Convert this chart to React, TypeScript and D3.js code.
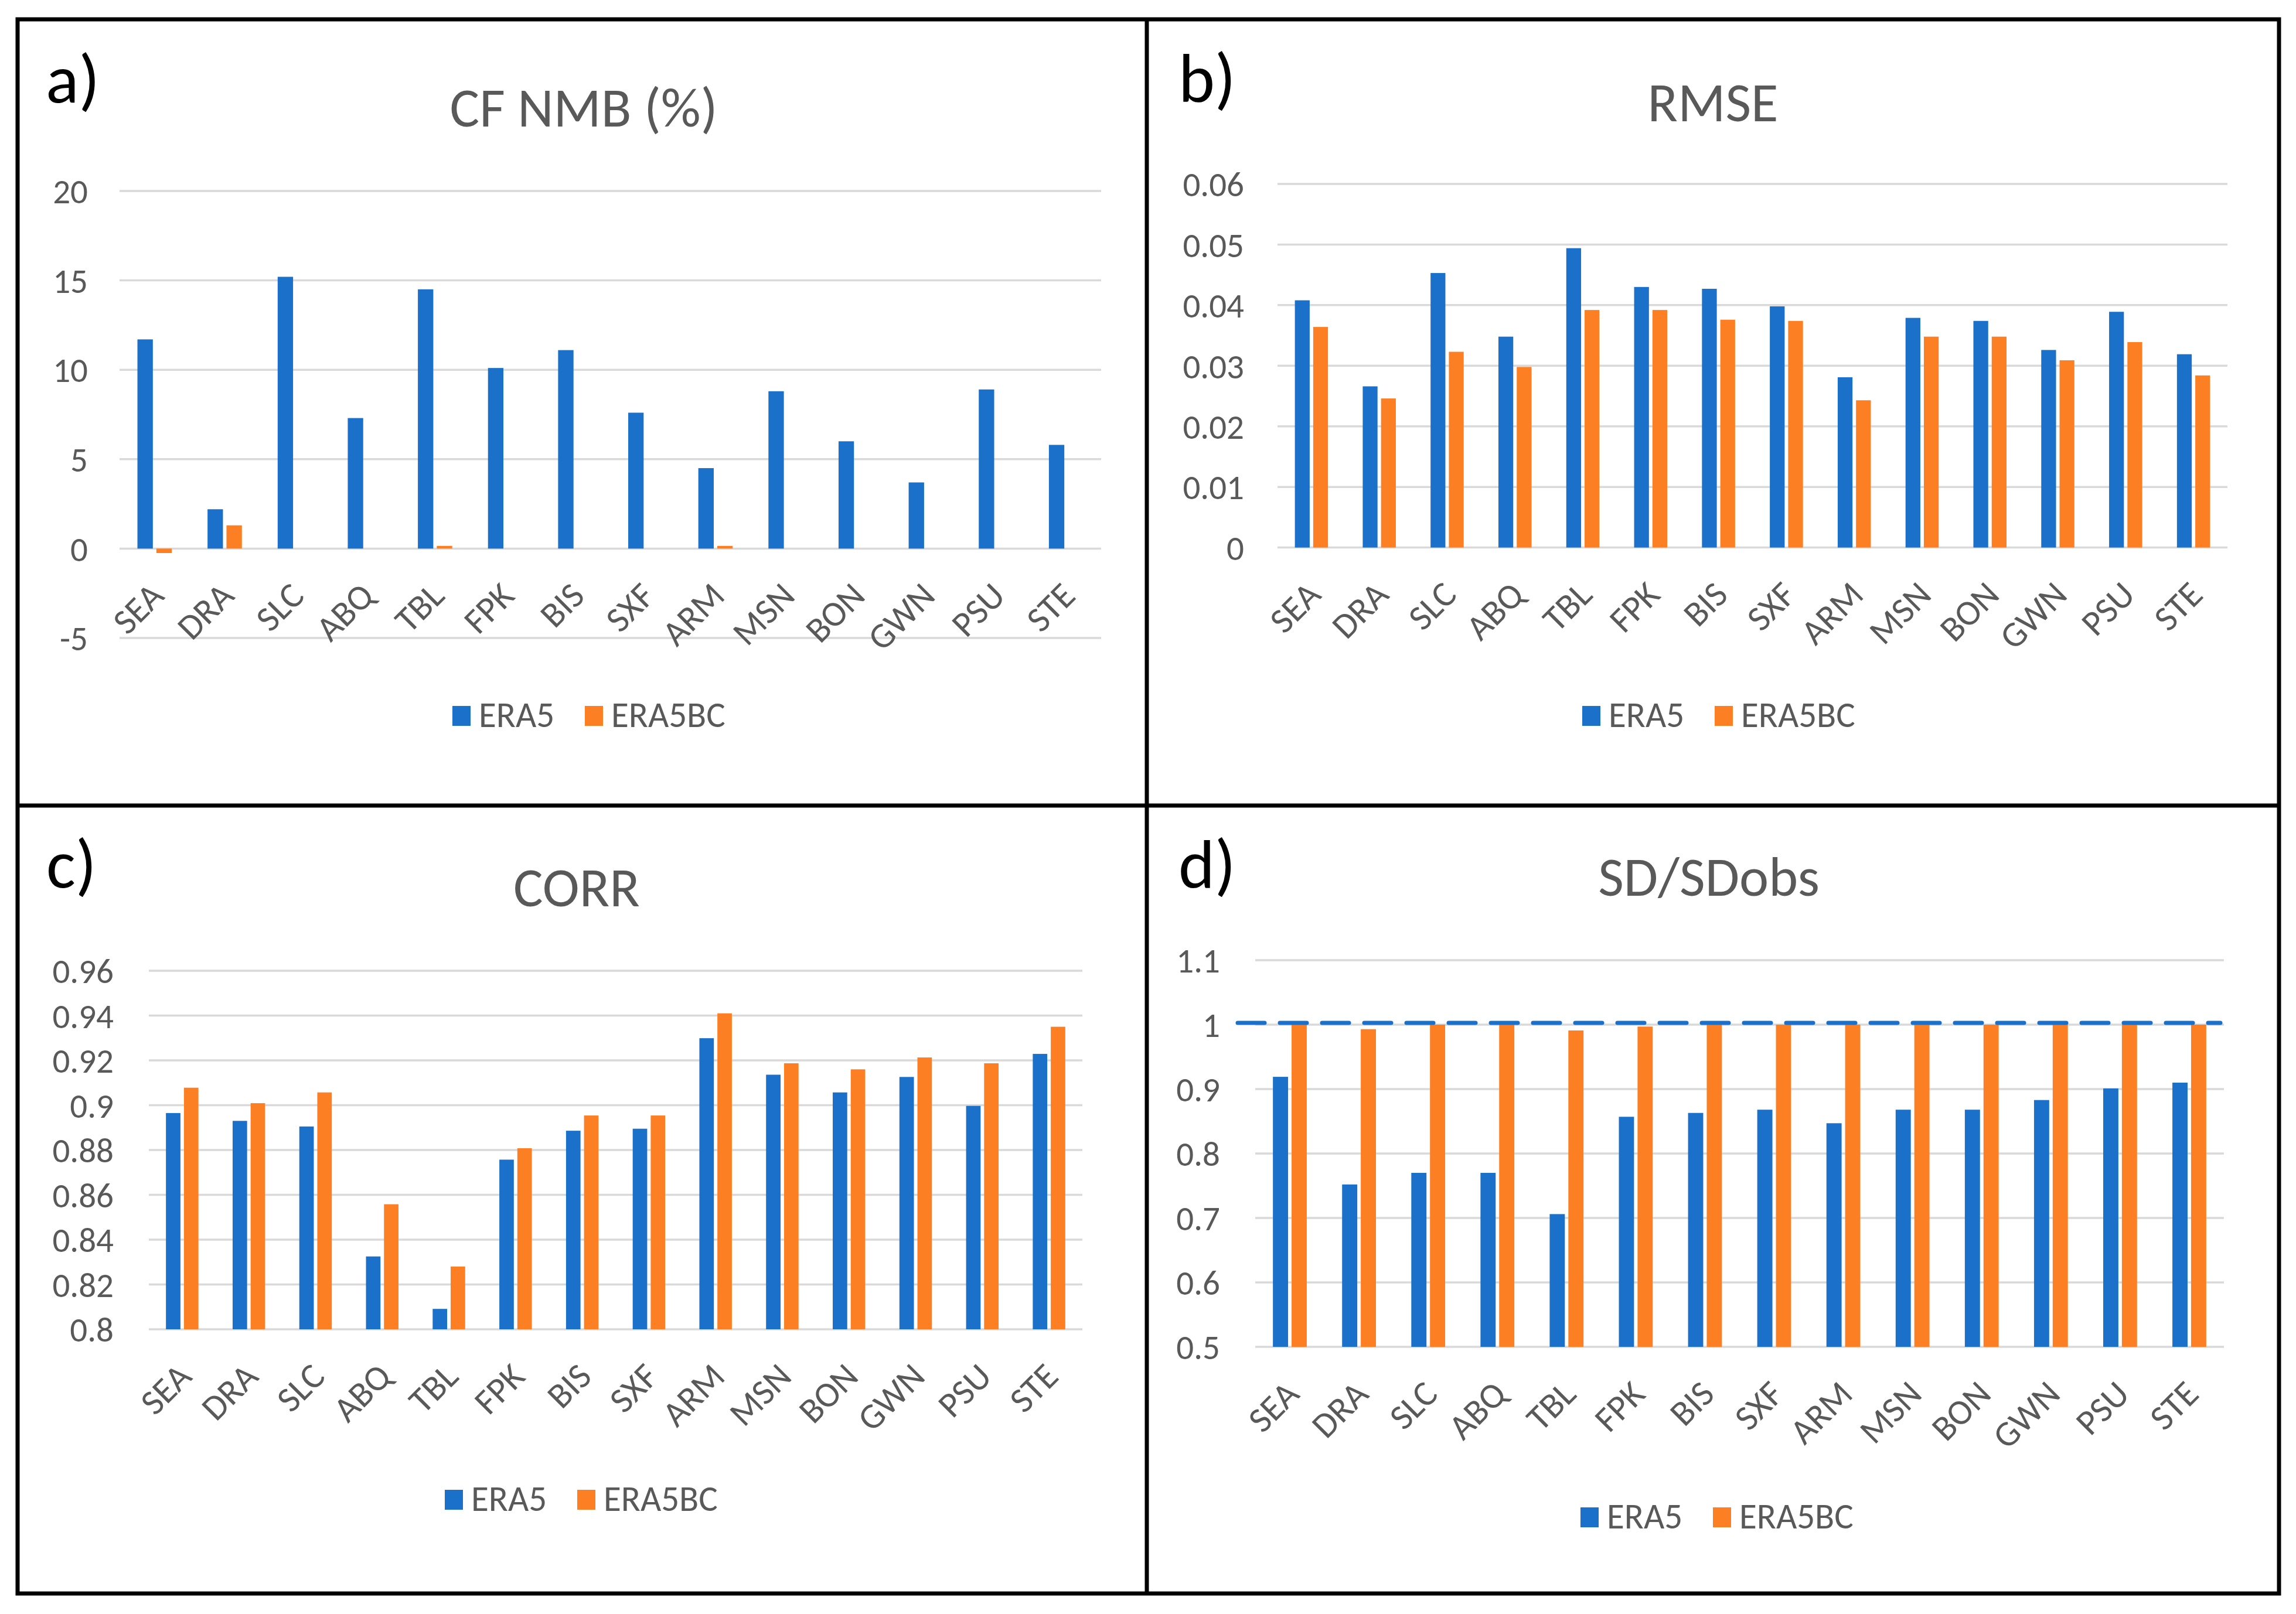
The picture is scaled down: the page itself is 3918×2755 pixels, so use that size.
import React from "react";
import * as d3 from "d3";

// ---------------- data ----------------
const stations = ["SEA", "DRA", "SLC", "ABQ", "TBL", "FPK", "BIS", "SXF", "ARM", "MSN", "BON", "GWN", "PSU", "STE"];
const seriesNames = ["ERA5", "ERA5BC"];
const seriesColors = ["#1b70c9", "#fd7f24"];

const nmbEra5 = [11.7, 2.2, 15.2, 7.3, 14.5, 10.1, 11.1, 7.6, 4.5, 8.8, 6.0, 3.7, 8.9, 5.8];
const nmbEra5bc = [-0.25, 1.3, 0, 0, 0.15, 0, 0, 0, 0.15, 0, 0, 0, 0, 0];
const nmbTicks = [-5, 0, 5, 10, 15, 20];

const rmseEra5 = [0.0408, 0.0266, 0.0453, 0.0348, 0.0494, 0.043, 0.0427, 0.0398, 0.0281, 0.0379, 0.0374, 0.0326, 0.0389, 0.0319];
const rmseEra5bc = [0.0364, 0.0246, 0.0323, 0.0298, 0.0392, 0.0392, 0.0376, 0.0374, 0.0243, 0.0348, 0.0348, 0.0309, 0.0339, 0.0284];
const rmseTicks = [0, 0.01, 0.02, 0.03, 0.04, 0.05, 0.06];

const corrEra5 = [0.8965, 0.893, 0.8905, 0.8325, 0.8091, 0.8757, 0.8886, 0.8895, 0.9299, 0.9136, 0.9057, 0.9126, 0.8997, 0.9229];
const corrEra5bc = [0.9078, 0.9009, 0.9057, 0.8558, 0.828, 0.8808, 0.8954, 0.8954, 0.941, 0.9187, 0.916, 0.9213, 0.9187, 0.935];
const corrTicks = [0.8, 0.82, 0.84, 0.86, 0.88, 0.9, 0.92, 0.94, 0.96];

const sdEra5 = [0.919, 0.752, 0.77, 0.77, 0.706, 0.857, 0.863, 0.868, 0.847, 0.868, 0.868, 0.883, 0.901, 0.91];
const sdEra5bc = [1.0, 0.993, 1.0, 1.0, 0.991, 0.997, 1.0, 1.0, 1.0, 1.0, 1.0, 1.0, 1.0, 1.0];
const sdTicks = [0.5, 0.6, 0.7, 0.8, 0.9, 1.0, 1.1];
const sdReference = 1.0;

// ---------------- styling ----------------
const FONT = "Carlito, Calibri, Lato, 'Open Sans', sans-serif";
const TEXT = "#595959";
const GRID = "#d9d9d9";

type PanelCfg = {
  tag: string;
  title: string;
  a: number[];
  b: number[];
  ticks: number[];
  x0: number;
  x1: number;
  yTop: number;
  yBot: number;
  tickRight: number;
  titleX: number;
  titleY: number;
  tagX: number;
  tagY: number;
  legendX: number;
  legendY: number;
  refLine?: number;
};

const fmt = (v: number) => String(+v.toFixed(4));

function Panel({ cfg }: { cfg: PanelCfg }) {
  const dom: [number, number] = [cfg.ticks[0], cfg.ticks[cfg.ticks.length - 1]];
  const y = d3.scaleLinear().domain(dom).range([cfg.yBot, cfg.yTop]);
  const x = d3.scaleBand<string>().domain(stations).range([cfg.x0, cfg.x1]).padding(0);
  const band = x.bandwidth();
  const slot = band * 0.27;
  const base = Math.max(dom[0], Math.min(0, dom[1]));
  const y0 = y(base);
  const series = [cfg.a, cfg.b];
  return (
    <g>
      {cfg.ticks.map((t) => (
        <g key={t}>
          <line x1={cfg.x0} x2={cfg.x1} y1={y(t)} y2={y(t)} stroke={GRID} strokeWidth={3.5} />
          <text x={cfg.tickRight} y={y(t)} dy="0.36em" textAnchor="end" fontSize={59} fill={TEXT}>
            {fmt(t)}
          </text>
        </g>
      ))}
      {stations.map((s, i) => {
        const c = (x(s) as number) + band / 2;
        return (
          <g key={s}>
            {series.map((vals, k) => {
              const v = vals[i];
              const sx = c - slot + k * slot;
              const yv = y(v);
              return (
                <rect
                  key={k}
                  x={sx + 3}
                  width={slot - 6}
                  y={Math.min(yv, y0)}
                  height={Math.abs(yv - y0)}
                  fill={seriesColors[k]}
                />
              );
            })}
            <text
              transform={`translate(${c + 19},${y0 + 84}) rotate(-45)`}
              textAnchor="end"
              fontSize={61}
              fill={TEXT}
            >
              {s}
            </text>
          </g>
        );
      })}
      {cfg.refLine !== undefined && (
        <line
          x1={cfg.x0 - 30}
          x2={cfg.x1 - 6}
          y1={y(cfg.refLine) - 3}
          y2={y(cfg.refLine) - 3}
          stroke={seriesColors[0]}
          strokeWidth={7}
          strokeDasharray="46 26"
          strokeLinecap="round"
        />
      )}
      <text x={cfg.titleX} y={cfg.titleY} textAnchor="middle" fontSize={95} fill={TEXT}>
        {cfg.title}
      </text>
      <text x={cfg.tagX} y={cfg.tagY} fontSize={118} fill="#000">
        {cfg.tag}
      </text>
      {seriesNames.map((n, k) => {
        const lx = cfg.legendX + k * 226;
        return (
          <g key={n}>
            <rect x={lx} y={cfg.legendY} width={31} height={34} fill={seriesColors[k]} />
            <text x={lx + 45} y={cfg.legendY + 36} fontSize={61} fill={TEXT}>
              {n}
            </text>
          </g>
        );
      })}
    </g>
  );
}

const panels: PanelCfg[] = [
  {
    tag: "a)", title: "CF NMB (%)", a: nmbEra5, b: nmbEra5bc, ticks: nmbTicks,
    x0: 204, x1: 1879, yTop: 326, yBot: 1089, tickRight: 150,
    titleX: 996, titleY: 216, tagX: 78, tagY: 175, legendX: 772, legendY: 1205,
  },
  {
    tag: "b)", title: "RMSE", a: rmseEra5, b: rmseEra5bc, ticks: rmseTicks,
    x0: 2180, x1: 3801, yTop: 314, yBot: 934.6, tickRight: 2123,
    titleX: 2923, titleY: 207, tagX: 2011, tagY: 173, legendX: 2700, legendY: 1205,
  },
  {
    tag: "c)", title: "CORR", a: corrEra5, b: corrEra5bc, ticks: corrTicks,
    x0: 254, x1: 1847, yTop: 1657, yBot: 2269, tickRight: 194,
    titleX: 984, titleY: 1547, tagX: 79, tagY: 1515, legendX: 759, legendY: 2543,
  },
  {
    tag: "d)", title: "SD/SDobs", a: sdEra5, b: sdEra5bc, ticks: sdTicks,
    x0: 2142, x1: 3795, yTop: 1639, yBot: 2299, tickRight: 2082,
    titleX: 2916, titleY: 1529, tagX: 2011, tagY: 1515, legendX: 2697, legendY: 2573,
    refLine: sdReference,
  },
];

export default function App() {
  return (
    <svg
      width={3918}
      height={2755}
      style={{ position: "absolute", left: 0, top: 0, display: "block", background: "#fff" }}
      fontFamily={FONT}
    >
      <rect x={0} y={0} width={3918} height={2755} fill="#fff" />
      {panels.map((p) => (
        <Panel key={p.tag} cfg={p} />
      ))}
      <rect x={30} y={33} width={3859} height={2687} fill="none" stroke="#000" strokeWidth={7} />
      <line x1={1957} x2={1957} y1={33} y2={2720} stroke="#000" strokeWidth={7} />
      <line x1={30} x2={3889} y1={1375} y2={1375} stroke="#000" strokeWidth={7} />
    </svg>
  );
}
